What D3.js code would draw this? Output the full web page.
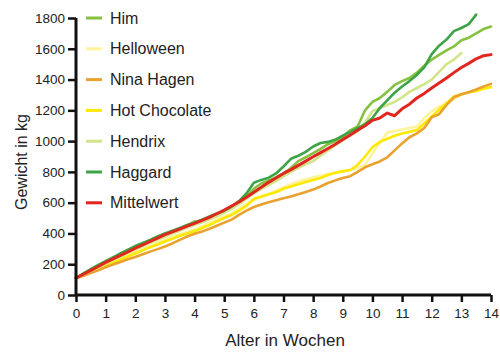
<!DOCTYPE html>
<html>
<head>
<meta charset="utf-8">
<script src="https://cdn.jsdelivr.net/npm/d3@7"></script>
<style>
  html, body { margin: 0; padding: 0; background: #fff; }
  svg { display: block; }
  text { font-family: "Liberation Sans", Arial, sans-serif; fill: #222; }
</style>
</head>
<body>
<svg id="chart" width="500" height="356"></svg>
<script>
// Weeks grid (0 .. 14 in steps of 0.25)
const weeks = d3.range(0, 14.001, 0.25);

const seriesNames = ["Him", "Helloween", "Nina Hagen", "Hot Chocolate", "Hendrix", "Haggard", "Mittelwert"];
const seriesColors = ["#86c13f", "#fdf39a", "#e9a12f", "#ffe900", "#d2e589", "#3ea447", "#e0261f"];

const him = [110,138,165,190,218,242,265,290,315,332,355,375,398,412,430,452,478,482,505,525,550,575,600,640,690,725,745,765,790,825,870,895,922,950,980,1000,1030,1070,1095,1200,1255,1280,1320,1365,1390,1410,1445,1490,1530,1560,1590,1615,1655,1672,1700,1728,1745];
const helloween = [110,130,150,172,195,215,238,260,282,300,320,340,360,378,395,410,425,445,468,490,512,530,560,590,615,635,655,680,700,720,738,752,765,775,785,795,800,810,825,845,920,990,1055,1065,1075,1085,1095,1150,1195,1225,1240,1275,1300,1320,1330,1340,1350];
const ninaHagen = [110,125,142,160,180,198,215,232,247,265,282,298,315,335,358,380,398,412,430,450,470,490,520,548,572,588,602,615,628,640,655,670,685,705,728,745,760,772,800,830,850,868,895,940,985,1025,1050,1085,1155,1175,1235,1285,1305,1318,1335,1355,1372];
const hotChocolate = [110,128,148,168,190,210,230,250,270,290,310,328,348,365,385,400,415,435,455,478,500,520,548,580,625,640,655,668,690,705,720,735,748,760,780,795,805,812,845,900,960,995,1015,1035,1050,1060,1072,1115,1160,1205,1247,1290,1305,1318,1325,1340,1352];
const hendrix = [110,133,157,180,205,228,250,272,295,318,340,360,380,400,418,438,455,472,492,512,535,560,590,625,660,690,715,740,770,800,825,850,870,905,940,975,1005,1035,1065,1120,1195,1215,1235,1255,1285,1320,1345,1370,1400,1450,1500,1530,1572,null,null,null,null];
const haggard = [110,140,168,195,220,245,270,295,318,338,358,380,400,418,435,455,470,490,510,530,548,575,610,660,730,748,762,790,835,885,905,930,965,988,995,1010,1035,1060,1085,1110,1150,1215,1265,1315,1355,1390,1430,1480,1565,1620,1660,1715,1735,1760,1822,null,null];
const mittelwert = [110,135,160,185,212,235,258,280,305,325,348,370,392,410,428,447,465,485,505,528,552,578,605,635,668,700,732,760,790,815,842,870,898,925,952,980,1010,1040,1070,1100,1135,1150,1182,1165,1210,1240,1280,1310,1345,1378,1410,1445,1478,1505,1535,1555,1562];

const seriesValues = [him, helloween, ninaHagen, hotChocolate, hendrix, haggard, mittelwert];

const xTicks = d3.range(0, 15, 1);
const yTicks = d3.range(0, 1801, 200);

const svg = d3.select("#chart");
const x = d3.scaleLinear().domain([0, 14]).range([76, 491]);
const y = d3.scaleLinear().domain([0, 1800]).range([295, 18]);

// Lines
const line = d3.line()
  .defined(d => d[1] != null)
  .x(d => x(d[0]))
  .y(d => y(d[1]));

const order = [0, 1, 3, 2, 4, 5, 6];
order.forEach(i => {
  const pts = weeks.map((w, k) => [w, seriesValues[i][k]]);
  svg.append("path")
    .datum(pts)
    .attr("fill", "none")
    .attr("stroke", seriesColors[i])
    .attr("stroke-width", i === 6 ? 3 : 2.6)
    .attr("stroke-linejoin", "round")
    .attr("stroke-linecap", "round")
    .attr("d", line);
});

// Axes
const yAxis = d3.axisLeft(y).tickValues(yTicks).tickFormat(d3.format("d"))
  .tickSizeInner(8).tickSizeOuter(0).tickPadding(3);
const xAxis = d3.axisBottom(x).tickValues(xTicks).tickFormat(d3.format("d"))
  .tickSizeInner(7).tickSizeOuter(0).tickPadding(6);

const gy = svg.append("g").attr("transform", "translate(76,0)").call(yAxis);
const gx = svg.append("g").attr("transform", "translate(0,295)").call(xAxis);

[gx, gy].forEach(g => {
  g.select(".domain").attr("stroke", "#111").attr("stroke-width", 3);
  g.selectAll(".tick line").attr("stroke", "#111").attr("stroke-width", 2.5);
  g.selectAll(".tick text")
    .style("font-family", '"Liberation Sans", Arial, sans-serif')
    .style("font-size", "13.5px")
    .attr("fill", "#222");
});
gy.select(".domain").attr("d", `M0,${y(1800)}V${y(0)}`);
gx.select(".domain").attr("d", `M${x(0)},0H${x(14)}`);

// Axis titles
svg.append("text")
  .attr("x", 285).attr("y", 346)
  .attr("text-anchor", "middle")
  .style("font-size", "17px")
  .text("Alter in Wochen");

svg.append("text")
  .attr("transform", "translate(27,162) rotate(-90)")
  .attr("text-anchor", "middle")
  .style("font-size", "16px")
  .text("Gewicht in kg");

// Legend
const legend = svg.append("g");
seriesNames.forEach((name, i) => {
  const cy = 18 + i * 30.8;
  legend.append("line")
    .attr("x1", 86).attr("x2", 102)
    .attr("y1", cy).attr("y2", cy)
    .attr("stroke", seriesColors[i])
    .attr("stroke-width", 3);
  legend.append("text")
    .attr("x", 110).attr("y", cy)
    .attr("dy", "0.35em")
    .style("font-size", "16px")
    .text(name);
});
</script>
</body>
</html>
